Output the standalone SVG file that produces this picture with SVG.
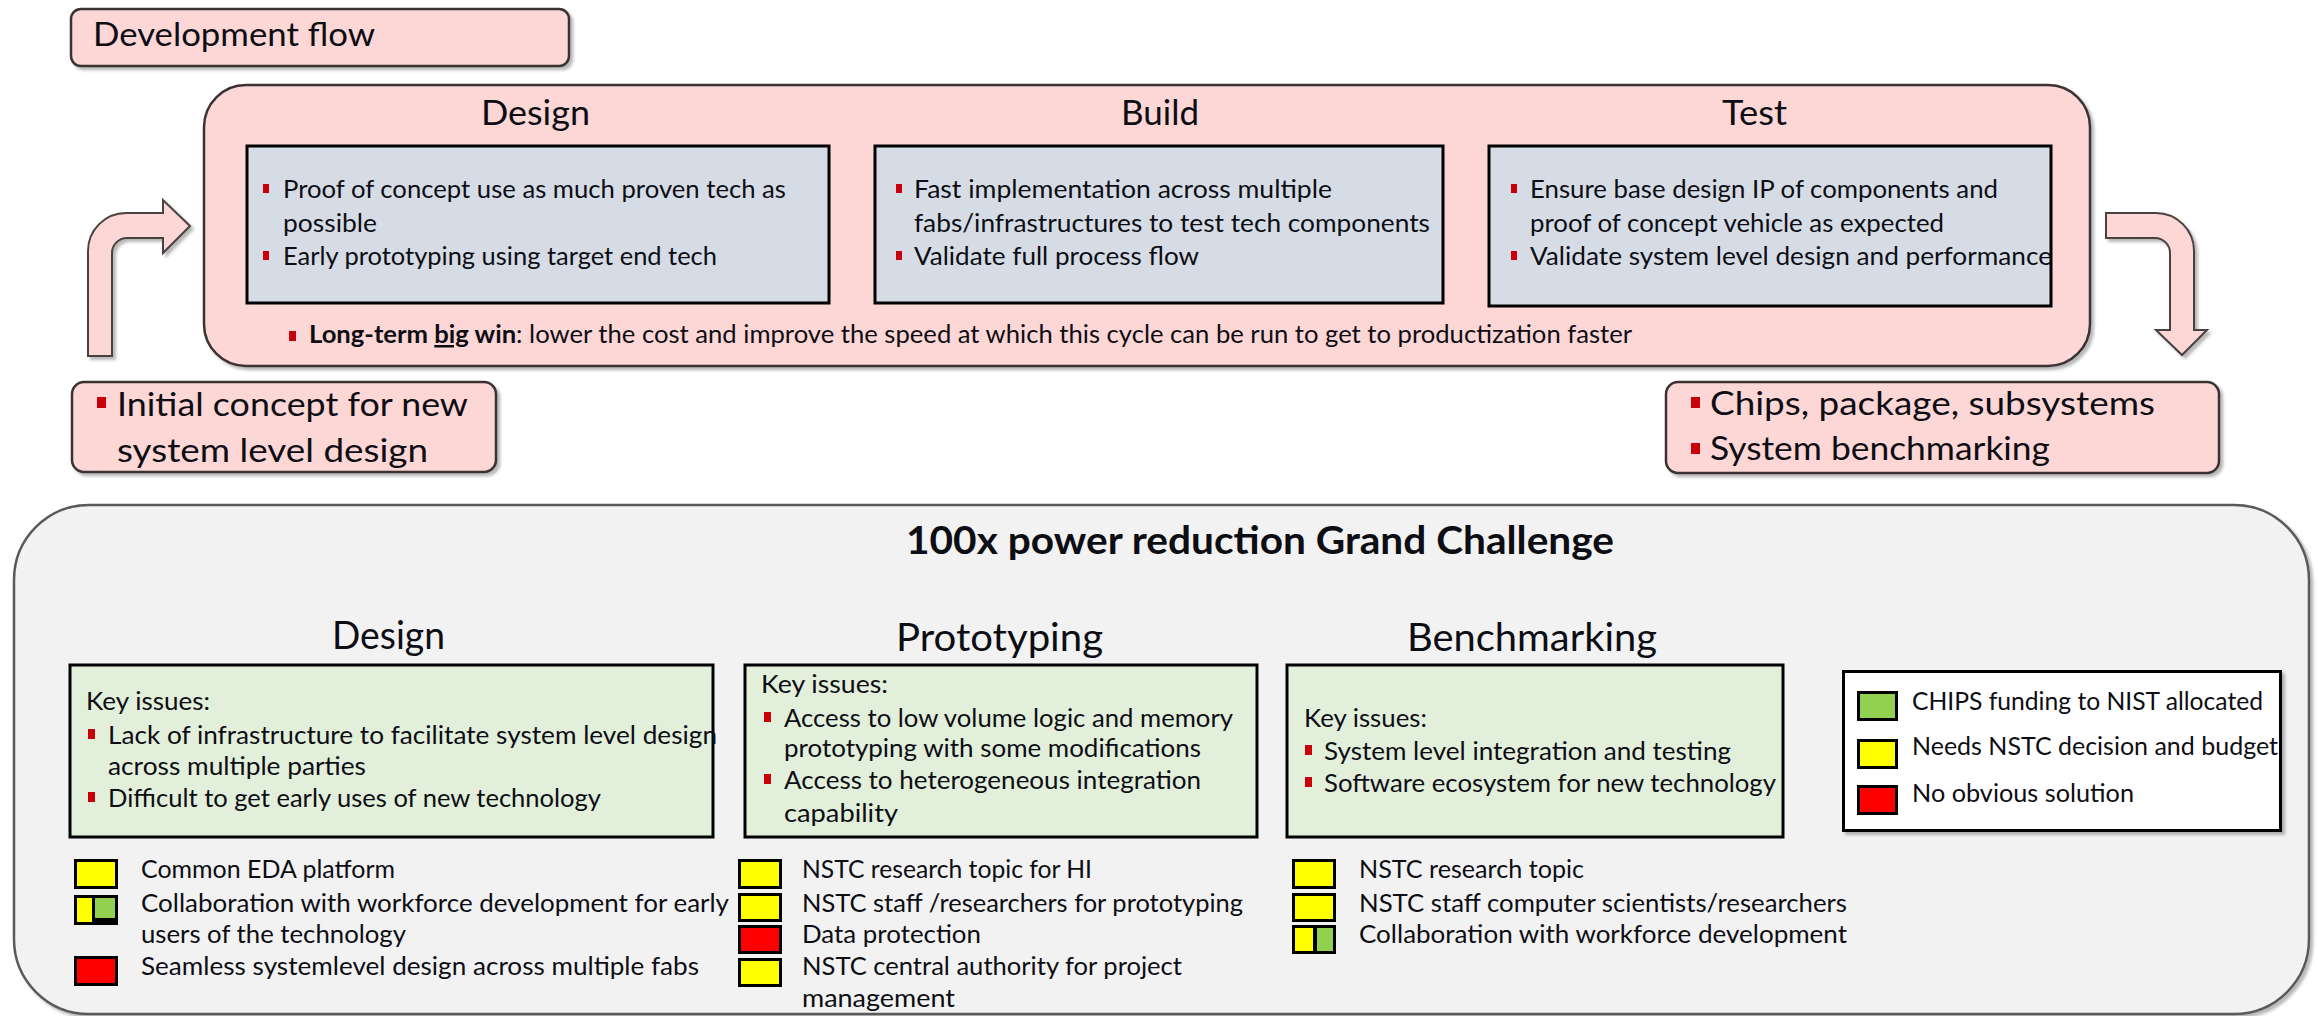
<svg xmlns="http://www.w3.org/2000/svg" width="2318" height="1016" viewBox="0 0 2318 1016">
  <defs>
    <filter id="shadow" x="-5%" y="-10%" width="112%" height="125%">
      <feDropShadow dx="3" dy="3" stdDeviation="1.5" flood-color="#000" flood-opacity="0.28"/>
    </filter>
  </defs>
  <style>
    text { font-family: Lato, "Liberation Sans", Arial, sans-serif; fill: #0d0d14; }
    .pink { fill: #FDD6D6; stroke: #3a3232; stroke-width: 2.5; }
    .arrow { fill: #FDD6D6; stroke: #4a4040; stroke-width: 2; }
    .blue { fill: #D6DCE5; stroke: #000; stroke-width: 3; }
    .green { fill: #E2EFDA; stroke: #000; stroke-width: 3; }
    .panel { fill: #F2F2F2; stroke: #5a5a5a; stroke-width: 2.5; }
    .legend { fill: #FFFFFF; stroke: #000; stroke-width: 3; }
    .t { font-size: 25px; }
    .h1 { font-size: 35px; }
    .h2 { font-size: 39px; }
    .lg { font-size: 33px; }
    .title { font-size: 39px; font-weight: bold; }
    .bul { fill: #C8000A; }
    .sq { stroke: #000; stroke-width: 3; }
    .y { fill: #FFFF00; }
    .r { fill: #FF0000; }
    .g { fill: #92D050; }
  </style>

  <!-- ===== Development flow ===== -->
  <g id="dev-flow-label">
    <rect class="pink" x="71" y="9" width="498" height="57" rx="10" filter="url(#shadow)"/>
    <text class="lg" x="93" y="46" textLength="282" lengthAdjust="spacingAndGlyphs">Development flow</text>
  </g>

  <g id="cycle-frame">
    <rect class="pink" x="204" y="85" width="1886" height="281" rx="42" filter="url(#shadow)"/>
    <text class="h1" x="481" y="125" textLength="109" lengthAdjust="spacingAndGlyphs">Design</text>
    <text class="h1" x="1121" y="125" textLength="78" lengthAdjust="spacingAndGlyphs">Build</text>
    <text class="h1" x="1722" y="125" textLength="65" lengthAdjust="spacingAndGlyphs">Test</text>
  </g>

  <g id="stage-design">
    <rect class="blue" x="247" y="146" width="582" height="157"/>
    <rect class="bul" x="263" y="184" width="6" height="9"/>
    <text class="t" x="283" y="198" textLength="503" lengthAdjust="spacingAndGlyphs">Proof of concept use as much proven tech as</text>
    <text class="t" x="283" y="232" textLength="94" lengthAdjust="spacingAndGlyphs">possible</text>
    <rect class="bul" x="263" y="251" width="6" height="9"/>
    <text class="t" x="283" y="265" textLength="434" lengthAdjust="spacingAndGlyphs">Early prototyping using target end tech</text>
  </g>

  <g id="stage-build">
    <rect class="blue" x="875" y="146" width="568" height="157"/>
    <rect class="bul" x="896" y="184" width="6" height="9"/>
    <text class="t" x="914" y="198" textLength="418" lengthAdjust="spacingAndGlyphs">Fast implementation across multiple</text>
    <text class="t" x="914" y="232" textLength="516" lengthAdjust="spacingAndGlyphs">fabs/infrastructures to test tech components</text>
    <rect class="bul" x="896" y="251" width="6" height="9"/>
    <text class="t" x="914" y="265" textLength="285" lengthAdjust="spacingAndGlyphs">Validate full process flow</text>
  </g>

  <g id="stage-test">
    <rect class="blue" x="1489" y="146" width="562" height="160"/>
    <rect class="bul" x="1511" y="184" width="6" height="9"/>
    <text class="t" x="1530" y="198" textLength="468" lengthAdjust="spacingAndGlyphs">Ensure base design IP of components and</text>
    <text class="t" x="1530" y="232" textLength="414" lengthAdjust="spacingAndGlyphs">proof of concept vehicle as expected</text>
    <rect class="bul" x="1511" y="251" width="6" height="9"/>
    <text class="t" x="1530" y="265" textLength="522" lengthAdjust="spacingAndGlyphs">Validate system level design and performance</text>
  </g>

  <g id="long-term-note">
    <rect class="bul" x="289" y="331" width="7" height="10"/>
    <text class="t" x="309" y="343" textLength="1323" lengthAdjust="spacingAndGlyphs"><tspan font-weight="bold">Long-term </tspan><tspan font-weight="bold" text-decoration="underline">big</tspan><tspan font-weight="bold"> win</tspan>: lower the cost and improve the speed at which this cycle can be run to get to productization faster</text>
  </g>

  <g id="start-input">
    <rect class="pink" x="72" y="382" width="424" height="90" rx="12" filter="url(#shadow)"/>
    <rect class="bul" x="97" y="397" width="9" height="11"/>
    <text class="lg" x="117" y="416" textLength="351" lengthAdjust="spacingAndGlyphs">Initial concept for new</text>
    <text class="lg" x="117" y="462" textLength="311" lengthAdjust="spacingAndGlyphs">system level design</text>
  </g>

  <g id="end-output">
    <rect class="pink" x="1666" y="382" width="553" height="91" rx="12" filter="url(#shadow)"/>
    <rect class="bul" x="1691" y="397" width="9" height="11"/>
    <text class="lg" x="1710" y="415" textLength="445" lengthAdjust="spacingAndGlyphs">Chips, package, subsystems</text>
    <rect class="bul" x="1691" y="443" width="9" height="11"/>
    <text class="lg" x="1710" y="460" textLength="340" lengthAdjust="spacingAndGlyphs">System benchmarking</text>
  </g>

  <!-- bent block arrows into and out of the cycle -->
  <g id="connectors">
    <path class="arrow" filter="url(#shadow)" d="M88,356 L88,251 A38,38 0 0 1 126,213 L163,213 L163,200 L190,226 L163,253 L163,238 L127,238 A15,15 0 0 0 112,253 L112,356 Z"/>
    <path class="arrow" filter="url(#shadow)" d="M2106,213 L2156,213 A38,38 0 0 1 2194,251 L2194,330 L2207,330 L2182,355 L2156,330 L2170,330 L2170,253 A15,15 0 0 0 2155,238 L2106,238 Z"/>
  </g>

  <!-- ===== Grand Challenge panel ===== -->
  <g id="grand-challenge">
    <rect class="panel" x="14" y="505" width="2295" height="509" rx="75" filter="url(#shadow)"/>
    <text class="title" x="906" y="554" textLength="708" lengthAdjust="spacingAndGlyphs">100x power reduction Grand Challenge</text>
    <text class="h2" x="332" y="649" textLength="113" lengthAdjust="spacingAndGlyphs">Design</text>
    <text class="h2" x="896" y="651" textLength="207" lengthAdjust="spacingAndGlyphs">Prototyping</text>
    <text class="h2" x="1407" y="651" textLength="250" lengthAdjust="spacingAndGlyphs">Benchmarking</text>
  </g>

  <g id="issues-design">
    <rect class="green" x="70" y="665" width="643" height="172"/>
    <text class="t" x="86" y="710" textLength="124" lengthAdjust="spacingAndGlyphs">Key issues:</text>
    <rect class="bul" x="88" y="729" width="7" height="10"/>
    <text class="t" x="108" y="744" textLength="609" lengthAdjust="spacingAndGlyphs">Lack of infrastructure to facilitate system level design</text>
    <text class="t" x="108" y="775" textLength="258" lengthAdjust="spacingAndGlyphs">across multiple parties</text>
    <rect class="bul" x="88" y="792" width="7" height="10"/>
    <text class="t" x="108" y="807" textLength="493" lengthAdjust="spacingAndGlyphs">Difficult to get early uses of new technology</text>
  </g>

  <g id="issues-prototyping">
    <rect class="green" x="745" y="665" width="512" height="172"/>
    <text class="t" x="761" y="693" textLength="127" lengthAdjust="spacingAndGlyphs">Key issues:</text>
    <rect class="bul" x="764" y="712" width="7" height="10"/>
    <text class="t" x="784" y="727" textLength="449" lengthAdjust="spacingAndGlyphs">Access to low volume logic and memory</text>
    <text class="t" x="784" y="757" textLength="417" lengthAdjust="spacingAndGlyphs">prototyping with some modifications</text>
    <rect class="bul" x="764" y="774" width="7" height="10"/>
    <text class="t" x="784" y="789" textLength="417" lengthAdjust="spacingAndGlyphs">Access to heterogeneous integration</text>
    <text class="t" x="784" y="822" textLength="114" lengthAdjust="spacingAndGlyphs">capability</text>
  </g>

  <g id="issues-benchmarking">
    <rect class="green" x="1287" y="665" width="496" height="172"/>
    <text class="t" x="1304" y="727" textLength="123" lengthAdjust="spacingAndGlyphs">Key issues:</text>
    <rect class="bul" x="1305" y="745" width="7" height="10"/>
    <text class="t" x="1324" y="760" textLength="407" lengthAdjust="spacingAndGlyphs">System level integration and testing</text>
    <rect class="bul" x="1305" y="777" width="7" height="10"/>
    <text class="t" x="1324" y="792" textLength="452" lengthAdjust="spacingAndGlyphs">Software ecosystem for new technology</text>
  </g>

  <g id="legend">
    <rect class="legend" x="1843.5" y="671.5" width="437" height="159" filter="url(#shadow)"/>
    <rect class="sq g" x="1858.5" y="692.5" width="38" height="27"/>
    <text class="t" x="1912" y="710" textLength="351" lengthAdjust="spacingAndGlyphs">CHIPS funding to NIST allocated</text>
    <rect class="sq y" x="1858.5" y="740.5" width="38" height="27"/>
    <text class="t" x="1912" y="755" textLength="366" lengthAdjust="spacingAndGlyphs">Needs NSTC decision and budget</text>
    <rect class="sq r" x="1858.5" y="786.5" width="38" height="27"/>
    <text class="t" x="1912" y="802" textLength="222" lengthAdjust="spacingAndGlyphs">No obvious solution</text>
  </g>

  <g id="actions-design">
    <rect class="sq y" x="75.5" y="860.5" width="41" height="27"/>
    <text class="t" x="141" y="878" textLength="254" lengthAdjust="spacingAndGlyphs">Common EDA platform</text>
    <rect x="74" y="895" width="44" height="30" fill="#000"/>
    <rect class="y" x="77" y="898" width="15" height="24"/>
    <rect class="g" x="95" y="898" width="20" height="20"/>
    <text class="t" x="141" y="912" textLength="588" lengthAdjust="spacingAndGlyphs">Collaboration with workforce development for early</text>
    <text class="t" x="141" y="943" textLength="265" lengthAdjust="spacingAndGlyphs">users of the technology</text>
    <rect class="sq r" x="75.5" y="957.5" width="41" height="27"/>
    <text class="t" x="141" y="975" textLength="558" lengthAdjust="spacingAndGlyphs">Seamless systemlevel design across multiple fabs</text>
  </g>

  <g id="actions-prototyping">
    <rect class="sq y" x="739.5" y="860.5" width="41" height="27"/>
    <text class="t" x="802" y="878" textLength="290" lengthAdjust="spacingAndGlyphs">NSTC research topic for HI</text>
    <rect class="sq y" x="739.5" y="894.5" width="41" height="26"/>
    <text class="t" x="802" y="912" textLength="441" lengthAdjust="spacingAndGlyphs">NSTC staff /researchers for prototyping</text>
    <rect class="sq r" x="739.5" y="926.5" width="41" height="26"/>
    <text class="t" x="802" y="943" textLength="179" lengthAdjust="spacingAndGlyphs">Data protection</text>
    <rect class="sq y" x="739.5" y="959.5" width="41" height="26"/>
    <text class="t" x="802" y="975" textLength="380" lengthAdjust="spacingAndGlyphs">NSTC central authority for project</text>
    <text class="t" x="802" y="1007" textLength="153" lengthAdjust="spacingAndGlyphs">management</text>
  </g>

  <g id="actions-benchmarking">
    <rect class="sq y" x="1293.5" y="860.5" width="41" height="27"/>
    <text class="t" x="1359" y="878" textLength="225" lengthAdjust="spacingAndGlyphs">NSTC research topic</text>
    <rect class="sq y" x="1293.5" y="894.5" width="41" height="26"/>
    <text class="t" x="1359" y="912" textLength="488" lengthAdjust="spacingAndGlyphs">NSTC staff computer scientists/researchers</text>
    <rect x="1292" y="925" width="44" height="29" fill="#000"/>
    <rect class="y" x="1295" y="928" width="18" height="23"/>
    <rect class="g" x="1317" y="928" width="16" height="23"/>
    <text class="t" x="1359" y="943" textLength="488" lengthAdjust="spacingAndGlyphs">Collaboration with workforce development</text>
  </g>
</svg>
